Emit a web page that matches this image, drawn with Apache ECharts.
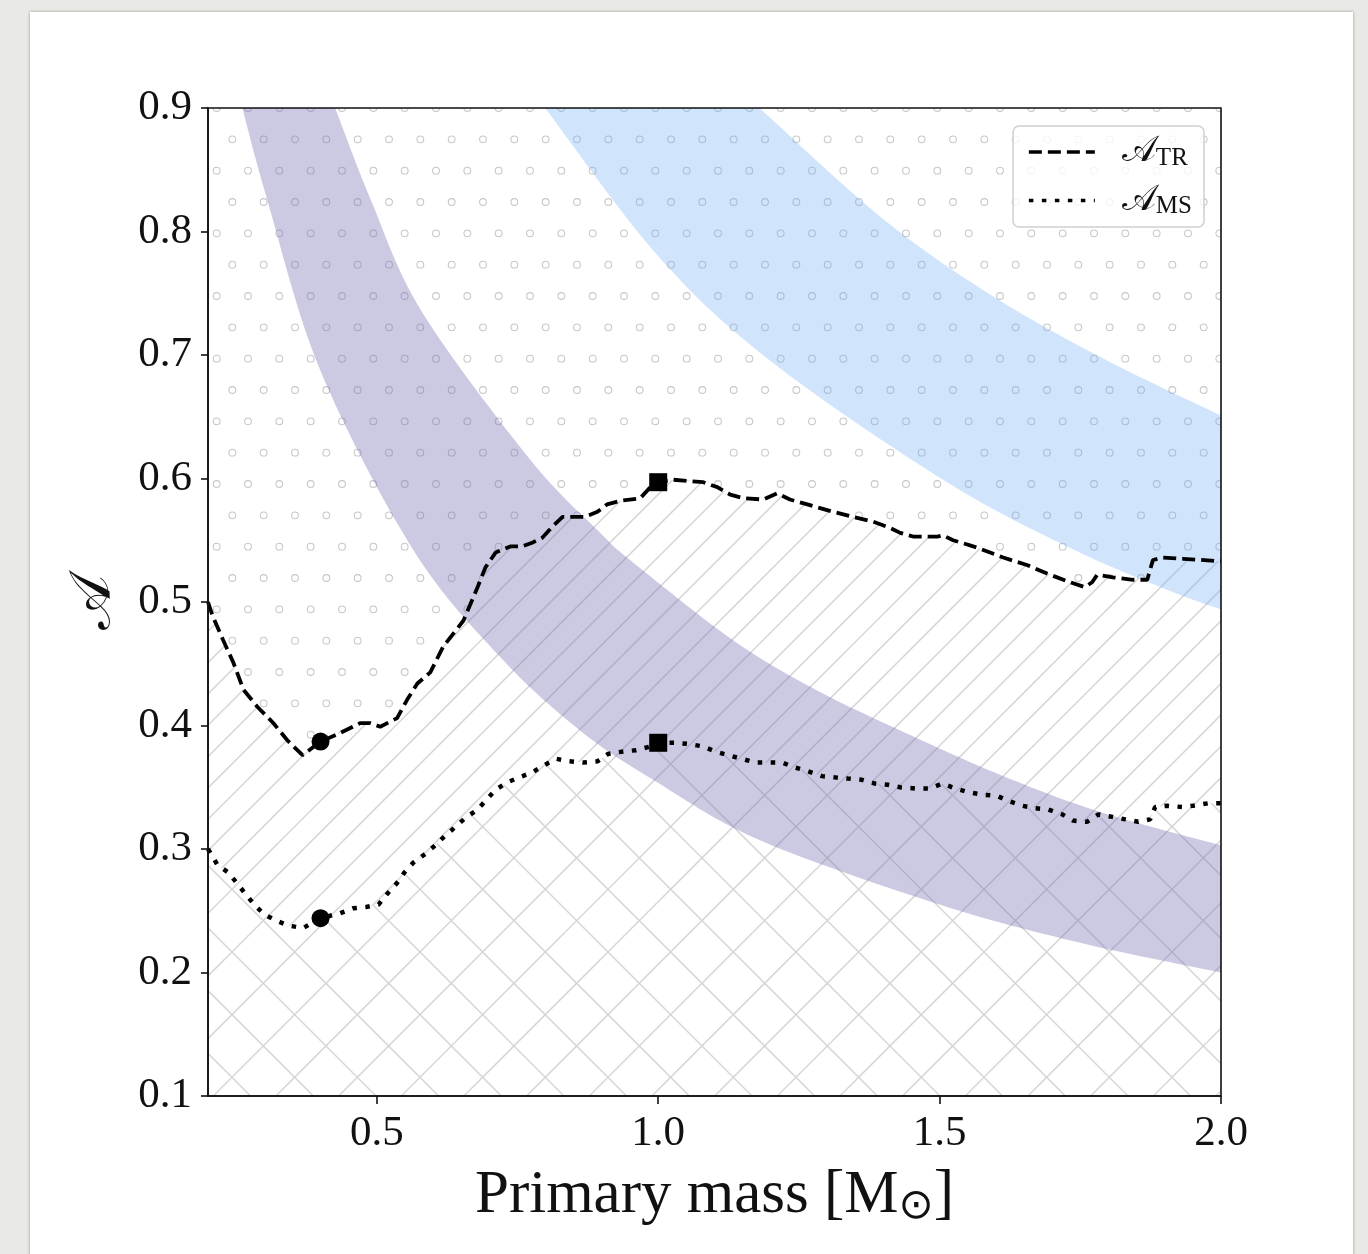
<!DOCTYPE html>
<html><head><meta charset="utf-8">
<script src="https://cdn.jsdelivr.net/npm/echarts@6/dist/echarts.min.js"></script>
<style>
html,body{margin:0;padding:0;background:#e9e9e6;width:1368px;height:1254px;overflow:hidden}
#card{position:absolute;left:30px;top:12px;width:1323px;height:1270px;background:#fff;box-shadow:0 0 3px rgba(0,0,0,0.35)}
#chart{position:absolute;left:0;top:0;width:1368px;height:1254px}
</style></head><body><div id="card"></div><div id="chart"></div>
<script>
// ---- data ----
const xTicks = [0.5, 1.0, 1.5, 2.0];
const yTicks = [0.1, 0.2, 0.3, 0.4, 0.5, 0.6, 0.7, 0.8, 0.9];

// A_TR (dashed)
const trMass = [0.200,0.208,0.227,0.245,0.263,0.288,0.316,0.341,0.368,0.400,0.435,0.471,0.488,0.506,0.536,0.554,0.572,0.595,0.618,0.654,0.679,0.693,0.711,0.737,0.758,0.776,0.794,0.812,0.830,0.849,0.870,0.892,0.909,0.933,0.968,0.986,1.000,1.027,1.080,1.105,1.128,1.151,1.187,1.211,1.234,1.265,1.311,1.346,1.382,1.412,1.430,1.453,1.496,1.506,1.524,1.567,1.613,1.655,1.691,1.732,1.758,1.771,1.780,1.808,1.844,1.869,1.879,1.897,1.933,2.000];
const trVal  = [0.500,0.489,0.469,0.451,0.429,0.415,0.402,0.388,0.376,0.387,0.394,0.402,0.402,0.399,0.406,0.421,0.434,0.443,0.464,0.485,0.512,0.528,0.540,0.545,0.545,0.548,0.552,0.561,0.569,0.569,0.569,0.573,0.579,0.582,0.584,0.593,0.597,0.599,0.597,0.593,0.587,0.584,0.583,0.588,0.583,0.579,0.573,0.569,0.565,0.560,0.556,0.553,0.553,0.554,0.550,0.544,0.536,0.530,0.523,0.516,0.512,0.516,0.522,0.520,0.518,0.518,0.534,0.536,0.535,0.533];

// A_MS (dotted)
const msMass = [0.200,0.204,0.217,0.236,0.252,0.266,0.282,0.300,0.321,0.343,0.369,0.400,0.435,0.458,0.481,0.503,0.519,0.535,0.549,0.565,0.586,0.604,0.622,0.640,0.657,0.679,0.695,0.711,0.732,0.753,0.776,0.798,0.819,0.842,0.867,0.892,0.911,0.938,0.961,0.986,1.000,1.030,1.055,1.080,1.101,1.124,1.149,1.172,1.195,1.220,1.243,1.266,1.291,1.314,1.337,1.362,1.385,1.408,1.430,1.457,1.483,1.505,1.528,1.551,1.576,1.602,1.622,1.647,1.670,1.693,1.718,1.737,1.762,1.782,1.807,1.830,1.853,1.874,1.883,1.904,1.931,1.950,1.977,2.000];
const msVal  = [0.300,0.297,0.287,0.281,0.272,0.264,0.255,0.247,0.242,0.238,0.236,0.244,0.248,0.252,0.253,0.255,0.264,0.272,0.281,0.289,0.296,0.303,0.311,0.318,0.325,0.332,0.340,0.348,0.354,0.358,0.362,0.368,0.373,0.371,0.370,0.371,0.377,0.379,0.380,0.383,0.386,0.386,0.385,0.383,0.379,0.376,0.373,0.370,0.370,0.370,0.366,0.363,0.359,0.358,0.357,0.356,0.353,0.352,0.350,0.349,0.349,0.353,0.349,0.346,0.344,0.343,0.339,0.335,0.333,0.332,0.328,0.323,0.322,0.328,0.326,0.324,0.322,0.324,0.334,0.335,0.334,0.335,0.337,0.337];

// markers
const circleMass = [0.4, 0.4];
const circleVal  = [0.387, 0.244];
const squareMass = [1.0, 1.0];
const squareVal  = [0.597, 0.386];

// purple band edges
const purpleUpperMass = [0.426,0.489,0.580,0.773,0.897,0.950,1.133,1.280,1.430,1.608,1.785,2.000];
const purpleUpperVal  = [0.900,0.826,0.735,0.615,0.556,0.534,0.469,0.429,0.396,0.360,0.330,0.303];
const purpleLowerMass = [0.261,0.305,0.400,0.565,0.720,0.861,0.991,1.181,1.500,1.750,2.000];
const purpleLowerVal  = [0.900,0.826,0.687,0.542,0.455,0.396,0.356,0.307,0.255,0.224,0.200];

// blue band edges
const blueUpperMass = [1.180,1.400,1.600,1.800,2.000];
const blueUpperVal  = [0.900,0.810,0.746,0.695,0.651];
const blueLowerMass = [0.799,1.000,1.200,1.506,1.726,1.904,2.000];
const blueLowerVal  = [0.900,0.780,0.695,0.599,0.545,0.510,0.494];

// ---- patterns ----
function dotTile(){
  const c=document.createElement('canvas'); c.width=94; c.height=188;
  const g=c.getContext('2d'); g.strokeStyle='#c8c8c8'; g.lineWidth=1.1;
  const s=94/3;
  for(let j=-1;j<=6;j++){
    const y=14+s*j, x0=(Math.abs(j)%2===0)?13:13+s/2;
    for(let i=-1;i<=3;i++){ g.beginPath(); g.arc(x0+s*i,y,3.4,0,Math.PI*2); g.stroke(); }
  }
  return c;
}
function hatchTile(size, step, slashC, backC){
  const c=document.createElement('canvas'); c.width=size; c.height=size;
  const g=c.getContext('2d'); g.fillStyle='#fff'; g.fillRect(0,0,size,size);
  g.strokeStyle='#d6d6d6'; g.lineWidth=1.5;
  if(slashC!==null){
    for(let k=-4;k<=8;k++){ const cc=slashC+step*k; g.beginPath(); g.moveTo(-20,cc+20); g.lineTo(size+20,cc-size-20); g.stroke(); }
  }
  if(backC!==null){
    for(let k=-8;k<=8;k++){ const cc=backC+step*k; g.beginPath(); g.moveTo(-20,-20-cc); g.lineTo(size+20,size+20-cc); g.stroke(); }
  }
  return c;
}
const dotPattern={image:dotTile(),repeat:'repeat'};
const slashPattern={image:hatchTile(94,94/3,24.6,null),repeat:'repeat'};
const crossPattern={image:hatchTile(188,188/3,55.9,32.0),repeat:'repeat'};

const zip=(a,b)=>a.map((v,i)=>[v,b[i]]);
const trData=zip(trMass,trVal), msData=zip(msMass,msVal);

// smooth (Catmull-Rom) rendering of an edge through its pixel points
function smoothPx(pts){
  const out=[];
  for(let i=0;i<pts.length-1;i++){
    const p0=pts[i-1]||pts[i], p1=pts[i], p2=pts[i+1], p3=pts[i+2]||pts[i+1];
    for(let s=0;s<16;s++){
      const t=s/16,t2=t*t,t3=t2*t;
      out.push([0,1].map(k=>0.5*((2*p1[k])+(-p0[k]+p2[k])*t+(2*p0[k]-5*p1[k]+4*p2[k]-p3[k])*t2+(-p0[k]+3*p1[k]-3*p2[k]+p3[k])*t3)));
    }
  }
  out.push(pts[pts.length-1]);
  return out;
}
function bandSeries(upM,upV,loM,loV,color){
  return {
    type:'custom', silent:true, z:4,
    data:[[upM[0],upV[0]]],
    renderItem:function(params,api){
      const lo=smoothPx(loM.map((m,i)=>api.coord([m,loV[i]])));
      const up=smoothPx(upM.map((m,i)=>api.coord([m,upV[i]]))).reverse();
      return {type:'polygon',shape:{points:lo.concat(up)},style:{fill:color,stroke:null}};
    }
  };
}

const serif='"Liberation Serif","DejaVu Serif",serif';
const chart=echarts.init(document.getElementById('chart'),null,{renderer:'canvas'});
chart.setOption({
  animation:false,
  backgroundColor:'transparent',
  grid:{left:208,top:108,right:147,bottom:158,show:true,borderColor:'#111',borderWidth:1.6,backgroundColor:'transparent',z:20},
  legend:{
    show:true, orient:'vertical', right:164, top:126,
    data:['\u{1D49C}TR','\u{1D49C}MS'],
    itemWidth:66, itemHeight:14, itemGap:12,
    padding:[8,12,8,14],
    itemStyle:{opacity:0},
    lineStyle:{width:3.6},
    backgroundColor:'rgba(255,255,255,0.8)', borderColor:'#d0d0d0', borderWidth:1.5, borderRadius:6,
    formatter:function(name){const a=Array.from(name);return '{a|'+a[0]+'}{s|'+a.slice(1).join('')+'}';},
    textStyle:{rich:{a:{fontFamily:serif,fontSize:36,lineHeight:42,color:'#111',padding:[0,0,0,22]},s:{fontFamily:serif,fontSize:25,color:'#111',padding:[12,0,0,0]}}}
  },
  xAxis:{
    type:'value', min:0.2, max:2.0,
    name:'Primary mass [M{sub|\u2299}]',
    nameLocation:'middle', nameGap:68,
    nameTextStyle:{fontFamily:serif,fontSize:61,color:'#111',rich:{sub:{fontFamily:'"DejaVu Sans"',fontSize:42,padding:[22,0,0,0]}}},
    axisLine:{lineStyle:{color:'#111',width:1.6}},
    axisTick:{show:true,length:8,lineStyle:{color:'#111',width:1.6},customValues:xTicks},
    axisLabel:{customValues:xTicks,fontFamily:serif,fontSize:43,color:'#111',margin:16,formatter:v=>v.toFixed(1)},
    splitLine:{show:false}, z:10
  },
  yAxis:{
    type:'value', min:0.1, max:0.9, interval:0.1,
    name:'\u{1D49C}', nameLocation:'middle', nameGap:84, nameRotate:90,
    nameTextStyle:{fontFamily:serif,fontSize:58,color:'#111'},
    axisLine:{lineStyle:{color:'#111',width:1.6}},
    axisTick:{show:true,length:7,lineStyle:{color:'#111',width:1.6},customValues:yTicks},
    axisLabel:{customValues:yTicks,fontFamily:serif,fontSize:43,color:'#111',margin:16,formatter:v=>v.toFixed(1)},
    splitLine:{show:false}, z:10
  },
  series:[
    {type:'line',silent:true,z:1,symbol:'none',data:[[0.2,0.9],[2.0,0.9]],lineStyle:{width:0,opacity:0},areaStyle:{color:dotPattern,opacity:1,origin:'start'}},
    {type:'line',silent:true,z:2,symbol:'none',data:trData,lineStyle:{width:0,opacity:0},areaStyle:{color:slashPattern,opacity:1,origin:'start'}},
    {type:'line',silent:true,z:3,symbol:'none',data:msData,lineStyle:{width:0,opacity:0},areaStyle:{color:crossPattern,opacity:1,origin:'start'}},
    bandSeries(purpleUpperMass,purpleUpperVal,purpleLowerMass,purpleLowerVal,'rgba(118,112,179,0.37)'),
    bandSeries(blueUpperMass,blueUpperVal,blueLowerMass,blueLowerVal,'rgba(110,170,245,0.32)'),
    {name:'\u{1D49C}TR',type:'line',z:5,symbol:'none',data:trData,color:'#000',lineStyle:{color:'#000',width:3.8,type:[13,6],cap:'butt'}},
    {name:'\u{1D49C}MS',type:'line',z:5,symbol:'none',data:msData,color:'#000',lineStyle:{color:'#000',width:4.5,type:[4.5,8.5],cap:'butt'}},
    {type:'scatter',z:6,silent:true,symbol:'circle',symbolSize:18,itemStyle:{color:'#000',opacity:1},data:zip(circleMass,circleVal)},
    {type:'scatter',z:6,silent:true,symbol:'rect',symbolSize:18,itemStyle:{color:'#000',opacity:1},data:zip(squareMass,squareVal)}
  ]
});
</script></body></html>
